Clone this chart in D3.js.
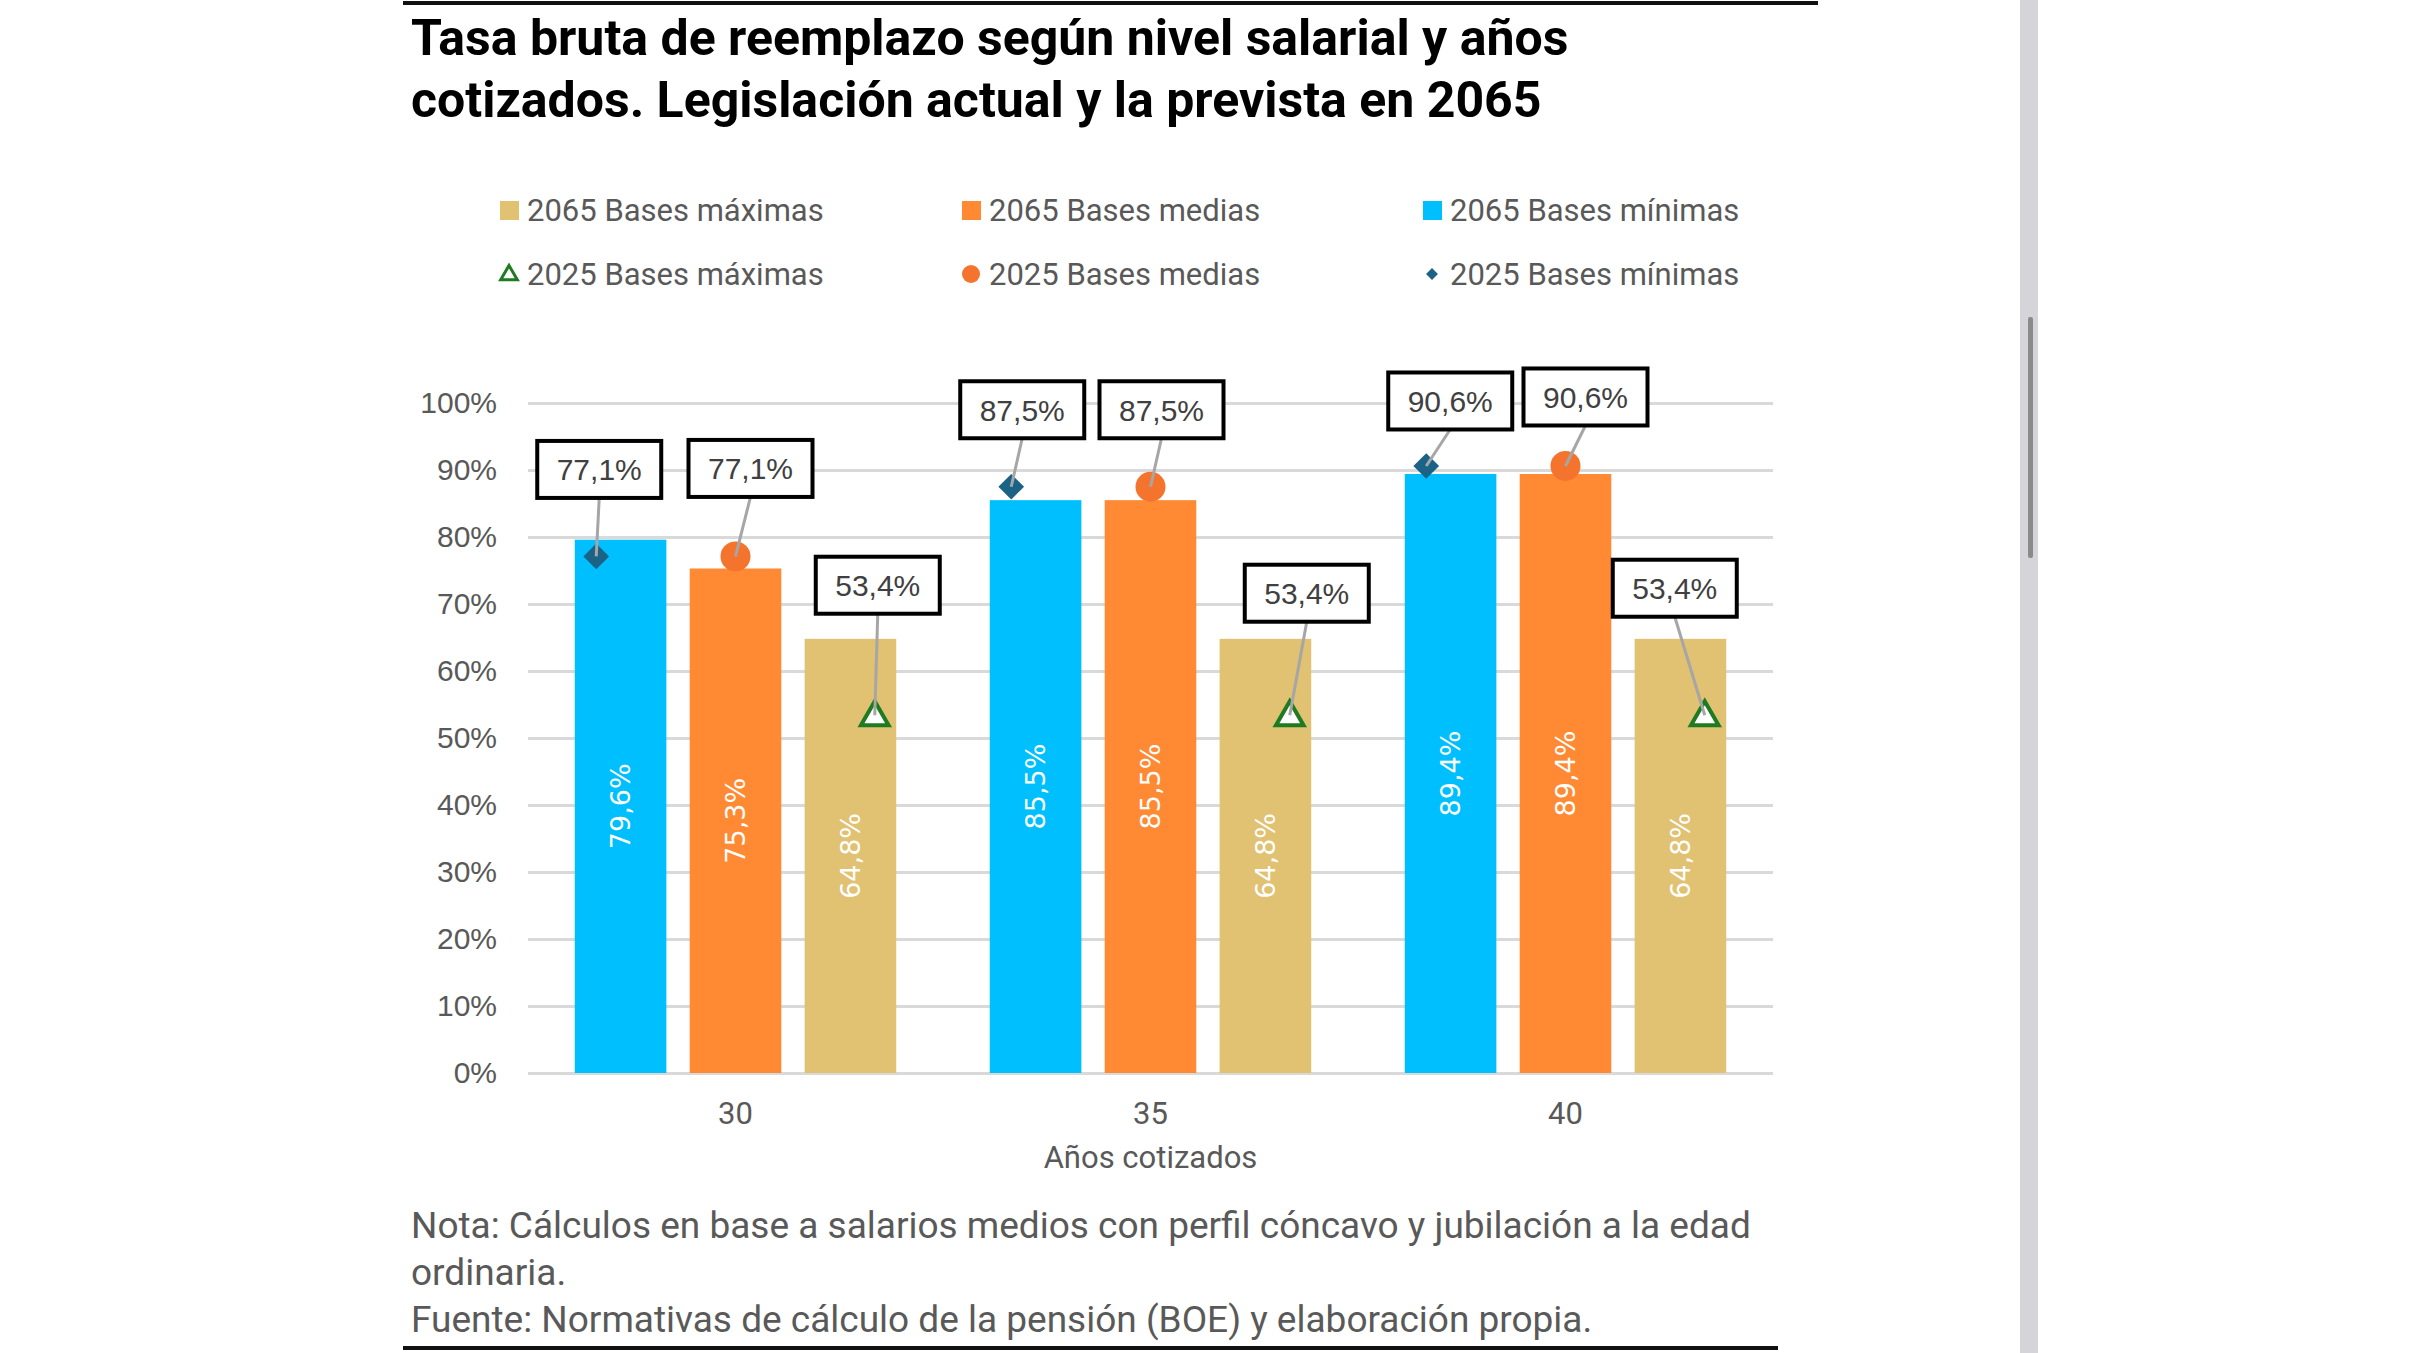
<!DOCTYPE html>
<html lang="es">
<head>
<meta charset="utf-8">
<script src="https://cdn.jsdelivr.net/npm/d3@7"></script>
<style>
  html, body { margin: 0; padding: 0; background: #fff; overflow: hidden; }
  svg { display: block; }
</style>
</head>
<body>
<svg id="chart"></svg>
<script>
// categorias (años cotizados) y series
const categories = ['30', '35', '40'];
const barSeries = ['2065 Bases mínimas', '2065 Bases medias', '2065 Bases máximas'];
const pointSeries = ['2025 Bases mínimas', '2025 Bases medias', '2025 Bases máximas'];

const bases2065Minimas = [79.6, 85.5, 89.4];
const bases2065Medias  = [75.3, 85.5, 89.4];
const bases2065Maximas = [64.8, 64.8, 64.8];

const bases2025Minimas = [77.1, 87.5, 90.6];
const bases2025Medias  = [77.1, 87.5, 90.6];
const bases2025Maximas = [53.4, 53.4, 53.4];

const yTicks = [0, 10, 20, 30, 40, 50, 60, 70, 80, 90, 100];

const legendRow1 = ['2065 Bases máximas', '2065 Bases medias', '2065 Bases mínimas'];
const legendRow2 = ['2025 Bases máximas', '2025 Bases medias', '2025 Bases mínimas'];

const titleLines = ['Tasa bruta de reemplazo según nivel salarial y años',
                    'cotizados. Legislación actual y la prevista en 2065'];
const noteLines = ['Nota: Cálculos en base a salarios medios con perfil cóncavo y jubilación a la edad',
                   'ordinaria.',
                   'Fuente: Normativas de cálculo de la pensión (BOE) y elaboración propia.'];

// desplazamiento (px) de cada etiqueta respecto a su marcador [categoria][serie]
const labelNudge = [
  [[3, -87], [15, -88], [3, -130]],
  [[11, -77], [11, -77], [17, -122]],
  [[24, -65], [20, -69], [-30, -127]]
];

const colors = {
  '2065 Bases mínimas': '#00BFFF',
  '2065 Bases medias': '#FF8A33',
  '2065 Bases máximas': '#E1C172',
  '2025 Bases mínimas': '#1B6386',
  '2025 Bases medias': '#F5742D',
  '2025 Bases máximas': '#1E7B22'
};

const W = 2423, H = 1353;
const svg = d3.select('#chart').attr('width', W).attr('height', H);
svg.append('rect').attr('width', W).attr('height', H).attr('fill', '#fff');

const es = d3.formatLocale({decimal: ',', thousands: '.', grouping: [3], currency: ['', '€']});
const pct = v => es.format('.1f')(v) + '%';

const barData = categories.map((c, i) => ({
  cat: c,
  values: [bases2065Minimas[i], bases2065Medias[i], bases2065Maximas[i]]
}));
const pointData = categories.map((c, i) => ({
  cat: c,
  values: [bases2025Minimas[i], bases2025Medias[i], bases2025Maximas[i]]
}));

// --- marco superior / inferior
svg.append('line').attr('x1', 403).attr('x2', 1818).attr('y1', 3).attr('y2', 3)
  .attr('stroke', '#111').attr('stroke-width', 4);
svg.append('line').attr('x1', 403).attr('x2', 1778).attr('y1', 1348).attr('y2', 1348)
  .attr('stroke', '#111').attr('stroke-width', 4);

// barra de desplazamiento a la derecha
svg.append('rect').attr('x', 2020).attr('y', 0).attr('width', 18).attr('height', H).attr('fill', '#d5d5d9');
svg.append('rect').attr('x', 2028).attr('y', 317).attr('width', 5).attr('height', 241).attr('rx', 2).attr('fill', '#8a8a8a');

// --- titulo
svg.append('g').selectAll('text').data(titleLines).enter().append('text')
  .attr('x', 411).attr('y', (d, i) => 55 + i * 62)
  .style('font-family', 'Roboto, sans-serif').style('font-weight', 700)
  .style('font-size', '50px').attr('fill', '#000')
  .text(d => d);

// --- leyenda
const legendX = [500, 962, 1423];
const legend = svg.append('g').style('font-family', 'Roboto, sans-serif').style('font-size', '31px');
legendRow1.forEach((name, i) => {
  legend.append('rect').attr('x', legendX[i]).attr('y', 201).attr('width', 19).attr('height', 19)
    .attr('fill', colors[name]);
  legend.append('text').attr('x', legendX[i] + 27).attr('y', 221).attr('fill', '#595959').text(name);
});
legendRow2.forEach((name, i) => {
  const g = legend.append('g').attr('transform', 'translate(' + (legendX[i] + 9) + ',274)');
  if (name.includes('máximas')) {
    g.append('path').attr('d', d3.symbol(d3.symbolTriangle, 120)()).attr('transform', 'translate(0,1)')
      .attr('fill', '#fff').attr('stroke', colors[name]).attr('stroke-width', 3);
  } else if (name.includes('medias')) {
    g.append('circle').attr('r', 9).attr('fill', colors[name]);
  } else {
    g.append('path').attr('d', d3.symbol(d3.symbolSquare, 70)()).attr('transform', 'rotate(45)')
      .attr('fill', colors[name]);
  }
  legend.append('text').attr('x', legendX[i] + 27).attr('y', 285).attr('fill', '#595959').text(name);
});

// --- area del grafico
const plotLeft = 528, plotRight = 1773, plotTop = 403, plotBottom = 1073;

const x0 = d3.scaleBand().domain(categories).range([plotLeft, plotRight]).paddingInner(0).paddingOuter(0);
const x1 = d3.scaleBand().domain(barSeries).range([0, x0.bandwidth()]).paddingInner(0.203).paddingOuter(0.407);
const xp = d3.scalePoint().domain(pointSeries).range([0, x0.bandwidth()]).padding(0.49);
const y = d3.scaleLinear().domain([0, 100]).range([plotBottom, plotTop]);

// rejilla
svg.append('g')
  .attr('transform', 'translate(' + plotLeft + ',0)')
  .call(d3.axisLeft(y).tickValues(yTicks).tickSize(-(plotRight - plotLeft)).tickFormat(''))
  .call(g => g.select('.domain').remove())
  .call(g => g.selectAll('line').attr('stroke', '#d9d9d9').attr('stroke-width', 3));

// etiquetas eje Y
svg.append('g')
  .attr('transform', 'translate(' + plotLeft + ',0)')
  .call(d3.axisLeft(y).tickValues(yTicks).tickSize(0).tickPadding(31).tickFormat(d => d + '%'))
  .call(g => g.select('.domain').remove())
  .call(g => g.selectAll('text').attr('fill', '#595959')
    .style('font-family', '"Liberation Sans", Arial, sans-serif').style('font-size', '30px'));

// eje X
svg.append('g')
  .attr('transform', 'translate(0,' + plotBottom + ')')
  .call(d3.axisBottom(x0).tickSize(0).tickPadding(29))
  .call(g => g.select('.domain').remove())
  .call(g => g.selectAll('text').attr('fill', '#595959')
    .style('font-family', 'Roboto, sans-serif').style('font-size', '31px'));

svg.append('text')
  .attr('x', (plotLeft + plotRight) / 2).attr('y', 1168).attr('text-anchor', 'middle')
  .style('font-family', 'Roboto, sans-serif').style('font-size', '31px').attr('fill', '#595959')
  .text('Años cotizados');

// barras 2065
const groups = svg.append('g').selectAll('g').data(barData).enter().append('g')
  .attr('transform', d => 'translate(' + x0(d.cat) + ',0)');

groups.selectAll('rect')
  .data(d => d.values.map((v, j) => ({key: barSeries[j], v: v})))
  .enter().append('rect')
  .attr('x', d => x1(d.key))
  .attr('width', x1.bandwidth())
  .attr('y', d => y(d.v))
  .attr('height', d => y(0) - y(d.v))
  .attr('fill', d => colors[d.key]);

groups.selectAll('text.val')
  .data(d => d.values.map((v, j) => ({key: barSeries[j], v: v})))
  .enter().append('text')
  .attr('class', 'val')
  .attr('transform', d => 'translate(' + (x1(d.key) + x1.bandwidth() / 2) + ',' + ((y(d.v) + y(0)) / 2) + ') rotate(-90)')
  .attr('text-anchor', 'middle').attr('dy', '0.36em')
  .style('font-family', '"DejaVu Sans", Verdana, sans-serif').style('font-size', '27px')
  .attr('fill', '#fff')
  .text(d => pct(d.v));

// puntos 2025 con etiquetas
const pts = [];
pointData.forEach((d, i) => {
  d.values.forEach((v, j) => {
    pts.push({key: pointSeries[j], v: v,
      cx: x0(d.cat) + xp(pointSeries[j]), cy: y(v), nudge: labelNudge[i][j]});
  });
});

const marks = svg.append('g');
pts.forEach(p => {
  if (p.key.includes('máximas')) {
    marks.append('path').attr('d', d3.symbol(d3.symbolTriangle, 330)())
      .attr('transform', 'translate(' + p.cx + ',' + (p.cy + 2) + ')')
      .attr('fill', '#fff').attr('stroke', colors[p.key]).attr('stroke-width', 4);
  } else if (p.key.includes('medias')) {
    marks.append('circle').attr('cx', p.cx).attr('cy', p.cy).attr('r', 15).attr('fill', colors[p.key]);
  } else {
    marks.append('path').attr('d', d3.symbol(d3.symbolSquare, 330)())
      .attr('transform', 'translate(' + p.cx + ',' + p.cy + ') rotate(45)')
      .attr('fill', colors[p.key]);
  }
});

const boxW = 124, boxH = 57;
const labels = svg.append('g');
pts.forEach(p => {
  const lx = p.cx + p.nudge[0], ly = p.cy + p.nudge[1];
  labels.append('line')
    .attr('x1', lx).attr('y1', ly + boxH / 2).attr('x2', p.cx).attr('y2', p.cy)
    .attr('stroke', '#a6a6a6').attr('stroke-width', 3);
  labels.append('rect')
    .attr('x', lx - boxW / 2).attr('y', ly - boxH / 2).attr('width', boxW).attr('height', boxH)
    .attr('fill', '#fff').attr('stroke', '#000').attr('stroke-width', 4);
  labels.append('text')
    .attr('x', lx).attr('y', ly).attr('dy', '0.36em').attr('text-anchor', 'middle')
    .style('font-family', '"Liberation Sans", Arial, sans-serif').style('font-size', '30px')
    .attr('fill', '#404040')
    .text(pct(p.v));
});

// --- nota y fuente
svg.append('g').selectAll('text').data(noteLines).enter().append('text')
  .attr('x', 411).attr('y', (d, i) => 1238 + i * 47)
  .style('font-family', 'Roboto, sans-serif').style('font-size', '37px').attr('fill', '#595959')
  .text(d => d);
</script>
</body>
</html>
